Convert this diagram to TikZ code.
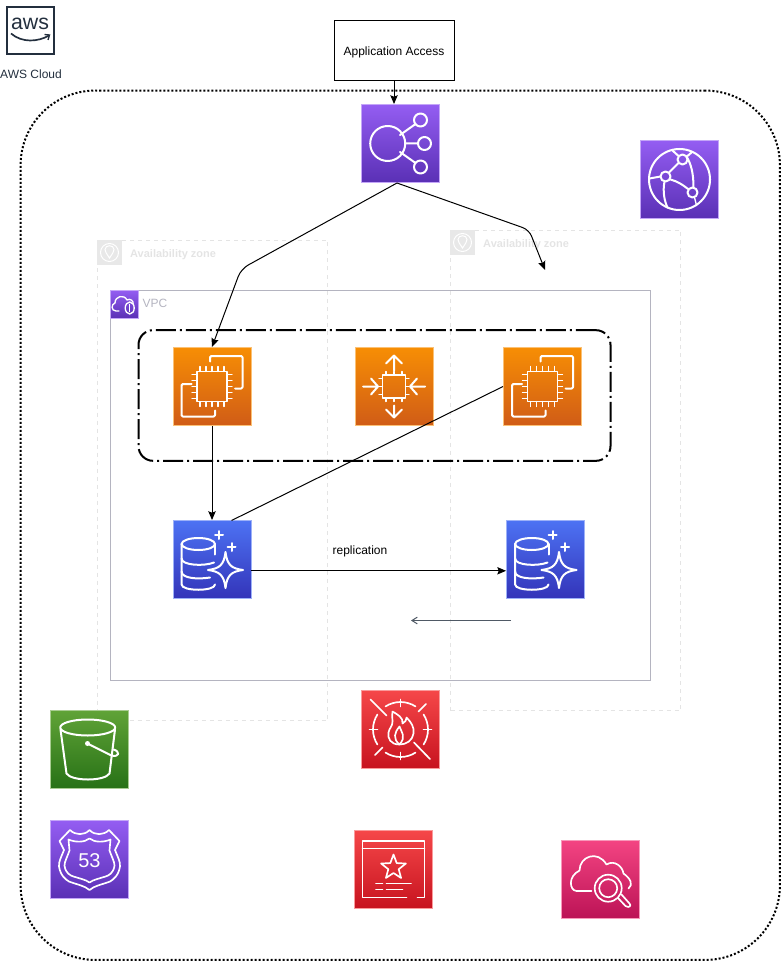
\documentclass[tikz,border=0pt]{standalone}
\usepackage{fontspec}
\setmainfont{Liberation Sans}
\usetikzlibrary{arrows.meta}

\definecolor{purpletop}{HTML}{945DF2}
\definecolor{purplebot}{HTML}{5A30B5}
\definecolor{orangetop}{HTML}{F78E04}
\definecolor{orangebot}{HTML}{D05C17}
\definecolor{bluetop}{HTML}{4D72F3}
\definecolor{bluebot}{HTML}{3334B9}
\definecolor{greentop}{HTML}{60A337}
\definecolor{greenbot}{HTML}{277116}
\definecolor{redtop}{HTML}{F54749}
\definecolor{redbot}{HTML}{C7131F}
\definecolor{pinktop}{HTML}{F34482}
\definecolor{pinkbot}{HTML}{BC1356}
\definecolor{awsink}{HTML}{232F3E}
\definecolor{zonegrey}{HTML}{E4E4E4}
\definecolor{vpcline}{HTML}{B4B4C0}

\tikzset{
  tile/.style 2 args={rectangle,
    minimum width = 58.5pt,
    minimum height = 58.5pt,
    inner sep = 0pt,
    top color = #1,
    bottom color = #2,
    draw = #1!55!white,
    line width = .75pt},
  glyph/.style={draw=white, line width=1.5pt, line cap=round, line join=round},
  thinglyph/.style={draw=white, line width=1pt, line cap=round, line join=round},
  zonebox/.style={rectangle,
    draw = zonegrey,
    dashed,
    line width = .75pt,
    minimum width = 172.5pt,
    minimum height = 360pt},
  zonetile/.style={rectangle,
    fill = zonegrey!85!white,
    minimum width = 18.75pt,
    minimum height = 18.75pt},
  zonelabel/.style={anchor=west, text=zonegrey, font=\fontsize{8.25pt}{10pt}\selectfont\bfseries},
  label9/.style={font=\fontsize{9pt}{11pt}\selectfont},
  wire/.style={->, line width=.75pt},
  pics/ecglyph/.style={code={
    \draw[glyph, line width=1.25pt] (-15,-15) rectangle (15,15);
    \foreach \p in {-12,-6,0,6,12} {
      \draw[thinglyph] (\p,-15) -- (\p,-20);
      \draw[thinglyph] (\p,15) -- (\p,20);
      \draw[thinglyph] (-15,\p) -- (-20,\p);
      \draw[thinglyph] (15,\p) -- (20,\p);
    }
    \draw[glyph, rounded corners=1pt] (-2,-25) -- (-2,-30.5) -- (30.5,-30.5) -- (30.5,2) -- (23,2);
    \draw[glyph, rounded corners=1pt] (-20.5,-2.5) -- (-30.5,-2.5) -- (-30.5,30) -- (3,30) -- (3,24);
  }},
  pics/dbglyph/.style={code={
    \draw[glyph] (-13.7,-15.5) ellipse[x radius=16.7, y radius=6];
    \draw[glyph] (-30.4,-15.5) -- (-30.4,25) .. controls (-30.4,32) and (3,32) .. (3,25);
    \draw[glyph] (3,-15.5) -- (3,-5);
    \draw[glyph] (-30.4,-1) .. controls (-30.4,6) and (-8,7) .. (2,3);
    \draw[glyph] (-30.4,12) .. controls (-30.4,19) and (-14,20) .. (-2,18);
    \draw[glyph] (13.5,-7.5) .. controls (15,5) and (19,9) .. (31,10.5) .. controls (19,12) and (15,16) .. (13.5,28.5) .. controls (12,16) and (8,12) .. (-4,10.5) .. controls (8,9) and (12,5) .. (13.5,-7.5) -- cycle;
    \draw[glyph] (7,-28.5) -- (7,-20.5) (3,-24.5) -- (11,-24.5);
    \draw[glyph] (19.5,-16.5) -- (19.5,-8.5) (15.5,-12.5) -- (23.5,-12.5);
  }}
}

\begin{document}
\begin{tikzpicture}[x=.75pt,y=-.75pt,>={Stealth[length=6.5pt,width=5.5pt,inset=1pt]}]
  \useasboundingbox (0,0) rectangle (782,962);

  % cloud frame
  \node[rectangle,
        draw,
        line width = 1.5pt,
        dash pattern = on 1.5pt off 1.5pt,
        rounded corners = 56pt,
        minimum width = 569.5pt,
        minimum height = 652pt
        ] (cloud) at (400.25,525.25) {};

  % logo
  \node[rectangle,
        draw = awsink,
        line width = 1.5pt,
        minimum width = 35pt,
        minimum height = 35pt
        ] (logo) at (30.5,30.5) {};
  \node[text = awsink, inner sep = 0pt, font = \fontsize{16pt}{18pt}\selectfont] (logotext) at (30,23.5) {aws};
  \draw[awsink, line width=1.25pt] (11,33.5) .. controls (22,43) and (38,42) .. (49,35.5);
  \draw[awsink, line width=1pt] (44.5,34.5) -- (49.5,35) -- (48,40);
  \node[label9, text = awsink] (cloudlab) at (31,74) {AWS Cloud};

  % zones
  \node[zonebox] (az1) at (212.5,480.5) {};
  \node[zonetile] (az1tile) at (109.5,252.5) {};
  \draw[white, line width=.75pt] (az1tile.center) circle[radius=9];
  \draw[white, line width=.75pt] (109.5,258) .. controls (106,253) and (105,251) .. (105,249.5) .. controls (105,244.5) and (114,244.5) .. (114,249.5) .. controls (114,251) and (113,253) .. (109.5,258) -- cycle;
  \node[zonelabel] (az1lab) at (125.5,254.5) {Availability zone};

  \node[zonebox] (az2) at (565.5,470.5) {};
  \node[zonetile] (az2tile) at (462.5,242.5) {};
  \draw[white, line width=.75pt] (az2tile.center) circle[radius=9];
  \draw[white, line width=.75pt] (462.5,248) .. controls (459,243) and (458,241) .. (458,239.5) .. controls (458,234.5) and (467,234.5) .. (467,239.5) .. controls (467,241) and (466,243) .. (462.5,248) -- cycle;
  \node[zonelabel] (az2lab) at (478.5,244.5) {Availability zone};

  % vpc
  \node[rectangle,
        draw = vpcline,
        line width = .75pt,
        minimum width = 405pt,
        minimum height = 292.5pt
        ] (vpc) at (380.5,485.5) {};
  \node[tile={purpletop}{purplebot},
        minimum width = 21pt,
        minimum height = 21pt
        ] (vpctile) at (124.3,304.3) {};
  \draw[thinglyph] (119,311) -- (116,311) .. controls (111,311) and (111,304) .. (115,303) .. controls (115,296) and (124,294) .. (127,300) .. controls (130,298) and (134,301) .. (133,304);
  \draw[thinglyph] (129.7,308) ellipse[x radius=4.5, y radius=6];
  \draw[thinglyph] (129.7,304.5) -- (129.7,311.5);
  \node[anchor = west, text = vpcline, label9] (vpclab) at (138,303.5) {VPC};

  % web tier group
  \node[rectangle,
        draw,
        line width = 1.5pt,
        dash pattern = on 15pt off 3pt on 1.5pt off 3pt,
        rounded corners = 11pt,
        minimum width = 354pt,
        minimum height = 98pt
        ] (group) at (374.5,395.5) {};

  % access box
  \node[rectangle,
        draw,
        line width = .75pt,
        fill = white,
        minimum width = 90pt,
        minimum height = 45pt,
        text height = 6.8pt,
        text depth = 0pt,
        label9
        ] (access) at (394,50.5) {Application Access};

  % tiles
  \node[tile={purpletop}{purplebot}] (lb) at (400.5,143.5) {};
  \node[tile={purpletop}{purplebot}] (cdn) at (679.5,179.5) {};
  \node[tile={orangetop}{orangebot}] (ec2a) at (212,386.5) {};
  \node[tile={orangetop}{orangebot}] (asg) at (394,386.5) {};
  \node[tile={orangetop}{orangebot}] (ec2b) at (542.5,386.5) {};
  \node[tile={bluetop}{bluebot}] (dba) at (212,559.5) {};
  \node[tile={bluetop}{bluebot}] (dbb) at (545.5,559.5) {};
  \node[tile={greentop}{greenbot}] (bucket) at (89.5,749.5) {};
  \node[tile={purpletop}{purplebot}] (dns) at (89.5,859.5) {};
  \node[tile={redtop}{redbot}] (waf) at (400.5,729.5) {};
  \node[tile={redtop}{redbot}] (cert) at (393.5,869.5) {};
  \node[tile={pinktop}{pinkbot}] (search) at (600.5,879.5) {};

  % tile glyphs
  \pic at (ec2a.center) {ecglyph};
  \pic at (ec2b.center) {ecglyph};
  \pic at (dba.center) {dbglyph};
  \pic at (dbb.center) {dbglyph};

  \begin{scope}[shift={(lb.center)}]
    \draw[glyph] (-12.8,0) circle[radius=17.5];
    \draw[glyph] (20,-23.5) circle[radius=6.5];
    \draw[glyph] (24,0) circle[radius=6.5];
    \draw[glyph] (20,23.5) circle[radius=6.5];
    \draw[glyph] (-0.5,-8.5) -- (15,-19.5) (4.7,0) -- (17.5,0) (-0.5,8.5) -- (15,19.5);
  \end{scope}

  \begin{scope}[shift={(cdn.center)}]
    \draw[glyph] (0,0) circle[radius=30.5];
    \draw[glyph] (3,-20) circle[radius=5];
    \draw[glyph] (-14,-3) circle[radius=5];
    \draw[glyph] (13,13) circle[radius=5];
    \draw[glyph] (-10.5,-7) -- (-1,-16.5);
    \draw[glyph] (7,-23) .. controls (12,-15) and (14,-5) .. (14,8);
    \draw[glyph] (-9,0) .. controls (-2,2) and (3,5) .. (8.5,9.5);
    \draw[glyph] (-15,2) .. controls (-17,12) and (-15,22) .. (-12,28);
    \draw[glyph] (-19,-3) -- (-30,-1) (-1,-23.5) -- (-7,-29) (8,-23.5) -- (12,-27);
    \draw[thinglyph] (15,18) -- (17,26);
  \end{scope}

  \begin{scope}[shift={(asg.center)}]
    \draw[glyph, line width=1.25pt] (-11.5,-11.5) rectangle (11.5,11.5);
    \foreach \p in {-8,0,8} {
      \draw[thinglyph] (\p,-11.5) -- (\p,-15);
      \draw[thinglyph] (\p,11.5) -- (\p,15);
      \draw[thinglyph] (-11.5,\p) -- (-15,\p);
      \draw[thinglyph] (11.5,\p) -- (15,\p);
    }
    \draw[glyph] (0,-16) -- (0,-31) (-8,-23) -- (0,-31) -- (8,-23);
    \draw[glyph] (0,31) -- (0,19) (-8,23) -- (0,31) -- (8,23);
    \draw[glyph] (-31,0) -- (-16,0) (-23,-8) -- (-16,0) -- (-23,8);
    \draw[glyph] (31,0) -- (16,0) (23,-8) -- (16,0) -- (23,8);
  \end{scope}

  \begin{scope}[shift={(bucket.center)}]
    \draw[glyph] (-1.8,-22) ellipse[x radius=27.5, y radius=8];
    \draw[glyph] (-29,-20) -- (-23,24) .. controls (-18,32) and (15,32) .. (20,24) -- (25.5,-20);
    \draw[glyph] (-2,-6) -- (22,6) .. controls (30,8) and (31,2) .. (24,0);
    \fill[white] (-2,-6) circle[radius=2.5];
  \end{scope}

  \begin{scope}[shift={(dns.center)}]
    \draw[glyph, line width=1.25pt] (-19.5,-29.5) .. controls (-14,-24) and (-5,-24) .. (0,-29.5) .. controls (5,-24) and (14,-24) .. (19.5,-29.5) -- (30,-18.5) -- (25.5,-9.5) .. controls (28,-3) and (31,2) .. (30.5,7) .. controls (29,16) and (24,20) .. (20.5,22) .. controls (13,25) and (5,26) .. (0,30.5) .. controls (-5,26) and (-13,25) .. (-20.5,22) .. controls (-24,20) and (-29,16) .. (-30.5,7) .. controls (-31,2) and (-28,-3) .. (-25.5,-9.5) -- (-30,-18.5) -- cycle;
    \draw[glyph, line width=1.25pt] (-21,-20) .. controls (-14,-17) and (-5,-17) .. (0,-21) .. controls (5,-17) and (14,-17) .. (21,-20) -- (20,-9) .. controls (22,-3) and (25,2) .. (25,6) .. controls (24,14) and (19,16) .. (16,17) .. controls (10,19) and (4,20) .. (0,23) .. controls (-4,20) and (-10,19) .. (-16,17) .. controls (-19,16) and (-24,14) .. (-25,6) .. controls (-25,2) and (-22,-3) .. (-20,-9) -- cycle;
    \node[text = white, inner sep = 0pt, font = \fontsize{15pt}{16pt}\selectfont] (dnstext) at (0,1) {53};
  \end{scope}

  \begin{scope}[shift={(waf.center)}]
    \foreach \c in {0,90,180,270} {
      \draw[glyph, line width=1.25pt] plot[smooth, domain=\c-33:\c+33, samples=9] ({27.5*cos(\x)},{27.5*sin(\x)});
    }
    \draw[glyph, line width=1.25pt] (0,-30) -- (0,-23) (0,30) -- (0,23) (-31,0) -- (-23,0) (31,0) -- (23,0);
    \draw[glyph, line width=1.25pt] (-30,-30) -- (-14,-14) (13.5,13) -- (29.5,29.5) (18,-18) -- (25.5,-25.5) (-25.5,25.5) -- (-18,18);
    \draw[glyph, line width=1.25pt] (-1,15) .. controls (-10,15) and (-13,9) .. (-12,3) .. controls (-11,-2) and (-8,-3) .. (-8,-8) .. controls (-8,-12) and (-9,-15) .. (-8,-18) .. controls (-3,-15) and (3,-12) .. (2,-6) .. controls (5,-7) and (6,-10) .. (6,-12) .. controls (11,-7) and (14,-2) .. (13,4) .. controls (12,11) and (6,15) .. (-1,15) -- cycle;
    \draw[glyph, line width=1.25pt] (-1,15) .. controls (-8,9) and (-6,3) .. (-1,-3) .. controls (1,3) and (6,7) .. (-1,15);
  \end{scope}

  \begin{scope}[shift={(cert.center)}]
    \draw[glyph, line width=1.25pt] (13,28) -- (-31,28) -- (-31,-28.5) -- (31,-28.5) -- (31,28) -- (24,28);
    \draw[glyph, line width=1.25pt] (-31,-21) -- (31,-21);
    \draw[glyph, line width=1.25pt] (0,-15) -- (3.2,-6.4) -- (12.4,-6) -- (5.2,-0.3) -- (7.6,8.5) -- (0,3.5) -- (-7.6,8.5) -- (-5.2,-0.3) -- (-12.4,-6) -- (-3.2,-6.4) -- cycle;
    \draw[glyph, line width=1.25pt] (-17.5,14) -- (-11,14) (-7,14) -- (17.5,14) (-17.5,20) -- (-11,20) (-7,20) -- (9,20);
  \end{scope}

  \begin{scope}[shift={(search.center)}]
    \draw[glyph, line width=1.25pt] (-9,11.5) -- (-24,11.5) .. controls (-31,11) and (-33,-3) .. (-21,-9) .. controls (-21,-23) and (-3,-30) .. (6,-15) .. controls (14,-20) and (22,-13) .. (23,-6) .. controls (30,-1) and (33,5) .. (28,9);
    \draw[glyph, line width=1.25pt] (7.7,8.7) circle[radius=13.5];
    \draw[glyph, line width=1.25pt] (7.7,8.7) circle[radius=9];
    \draw[glyph, line width=1.25pt] (17.5,18.5) -- (25,26.5) .. controls (29,29) and (31,26) .. (29,24) -- (21,15);
  \end{scope}

  % connectors
  \coordinate (lbout) at (397,183);
  \coordinate (dbtop) at (231.5,520.5);
  \coordinate (zonetarget) at (545,270);
  \coordinate (dbaout) at (251,570.8);
  \coordinate (dbbin) at (506,570.8);
  \coordinate (backstart) at (511,620.5);
  \coordinate (backend) at (411,620.5);

  \draw[wire] (access.south) -- (access.south |- lb.north);
  \draw[wire, rounded corners=6pt] (lbout) -- (241,269) -- (ec2a.north);
  \draw[wire, rounded corners=5pt] (lbout) -- (529,229.8) -- (zonetarget);
  \draw[wire] (ec2a.south) -- (dba.north);
  \draw[line width=.75pt] (ec2b.west) -- (dbtop);
  \draw[wire] (dbaout) -- (dbbin);
  \draw[-{Straight Barb[length=4pt,width=5pt]}, line width=.75pt, draw=awsink!80!white] (backstart) -- (backend);

  \node[label9] (replab) at (360,551) {replication};

\end{tikzpicture}
\end{document}
